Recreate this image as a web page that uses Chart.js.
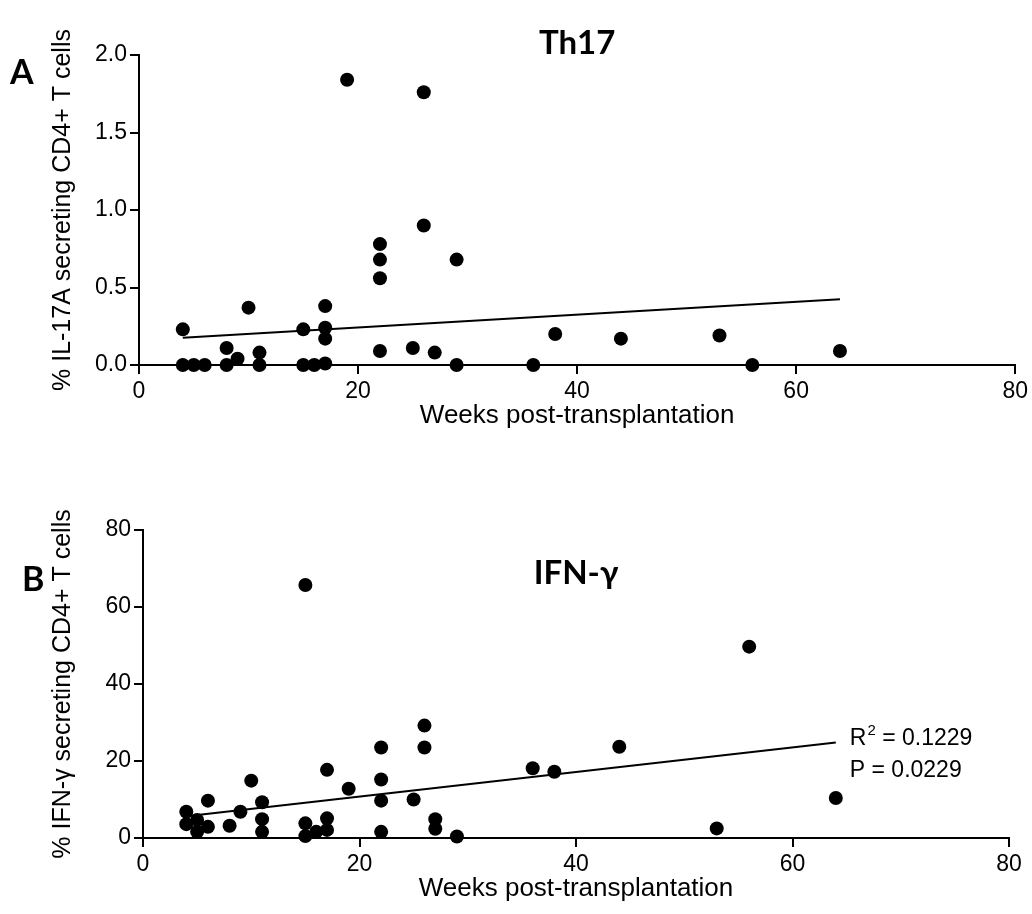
<!DOCTYPE html>
<html>
<head>
<meta charset="utf-8">
<title>Th17 and IFN-γ vs weeks post-transplantation</title>
<script src="https://cdn.jsdelivr.net/npm/chart.js@4.4.1/dist/chart.umd.min.js"></script>
<style>
  html, body { margin: 0; padding: 0; background: #fff; }
  body { width: 1032px; height: 914px; position: relative; overflow: hidden; }
  .panel { position: absolute; left: 0; width: 1032px; height: 457px; }
  #panelA { top: 0; }
  #panelB { top: 457px; }
</style>
</head>
<body>
<div class="panel" id="panelA"><canvas id="chartA"></canvas></div>
<div class="panel" id="panelB"><canvas id="chartB"></canvas></div>
<script>
"use strict";

// Panel A: % IL-17A secreting CD4+ T cells
const weeksA = [4, 4, 5, 6, 8, 8, 9, 10, 11, 11, 15, 15, 16, 17, 17, 17, 17, 19, 22, 22, 22, 22, 25, 26, 26, 27, 29, 29, 36, 38, 44, 53, 56, 64];
const il17a  = [0.23, 0, 0, 0, 0.11, 0, 0.04, 0.37, 0.08, 0, 0.23, 0, 0, 0.38, 0.24, 0.17, 0.01, 1.84, 0.78, 0.68, 0.56, 0.09, 0.11, 1.76, 0.90, 0.08, 0.68, 0, 0, 0.20, 0.17, 0.19, 0, 0.09];
const fitWeeksA = [4, 64];
const fitA      = [0.176, 0.424];
const yTicksA = [0, 0.5, 1.0, 1.5, 2.0];

// Panel B: % IFN-γ secreting CD4+ T cells
const weeksB = [4, 4, 5, 5, 6, 6, 8, 9, 10, 11, 11, 11, 15, 15, 15, 16, 17, 17, 17, 19, 22, 22, 22, 22, 25, 26, 26, 27, 27, 29, 36, 38, 44, 53, 56, 64];
const ifng   = [6.8, 3.6, 4.7, 1.6, 9.7, 2.9, 3.2, 6.8, 14.9, 9.3, 4.9, 1.6, 65.7, 3.8, 0.5, 1.6, 17.7, 5.1, 2.1, 12.8, 23.5, 15.2, 9.7, 1.6, 10.0, 29.2, 23.5, 4.9, 2.4, 0.4, 18.1, 17.2, 23.7, 2.5, 49.7, 10.4];
const fitWeeksB = [4, 64];
const fitB      = [5.65, 24.8];
const yTicksB = [0, 20, 40, 60, 80];
const statsB = ["0.1229", "0.0229"]; // R², P

const xTicks = [0, 20, 40, 60, 80];

Chart.defaults.font.family = "'Liberation Sans', Arial, sans-serif";
Chart.defaults.color = "#000";
Chart.defaults.animation = false;

function toPoints(xs, ys) {
  return xs.map((x, i) => ({ x, y: ys[i] }));
}

// panel letter, bold title and the optional R²/P note next to the fit line
const panelText = {
  id: "panelText",
  afterDraw(chart, args, opts) {
    const { ctx, chartArea, scales } = chart;
    ctx.save();
    ctx.fillStyle = "#000";
    ctx.textBaseline = "middle";

    ctx.font = "bold 33px Lato, sans-serif";
    ctx.textAlign = "center";
    ctx.fillText(opts.title, (chartArea.left + chartArea.right) / 2, chartArea.top + opts.titleDy);

    ctx.font = "bold 34px Lato, sans-serif";
    ctx.textAlign = "left";
    ctx.fillText(opts.letter, opts.letterX, chartArea.top + opts.letterDy);

    if (opts.stats) {
      const fit = chart.data.datasets[1].data;
      const end = fit[fit.length - 1];
      const x0 = scales.x.getPixelForValue(end.x) + 14;
      const y0 = scales.y.getPixelForValue(end.y) - 4;
      ctx.font = "23px 'Liberation Sans', Arial, sans-serif";
      ctx.fillText("R", x0, y0);
      let x = x0 + ctx.measureText("R").width;
      ctx.font = "15px 'Liberation Sans', Arial, sans-serif";
      ctx.fillText("2", x + 1, y0 - 8);
      x += ctx.measureText("2").width + 1;
      ctx.font = "23px 'Liberation Sans', Arial, sans-serif";
      ctx.fillText(" = " + opts.stats[0], x, y0);
      ctx.fillText("P = " + opts.stats[1], x0, y0 + 32);
    }
    ctx.restore();
  },
};

function makePanel(canvasId, cfg) {
  const axisLine = { display: true, color: "#000", width: 2 };
  const tickGrid = { drawOnChartArea: false, drawTicks: true, tickLength: 9, lineWidth: 2, color: "#000" };

  return new Chart(document.getElementById(canvasId), {
    type: "scatter",
    data: {
      datasets: [
        {
          data: toPoints(cfg.xs, cfg.ys),
          backgroundColor: "#000",
          borderWidth: 0,
          pointRadius: 7,
          pointHoverRadius: 7,
          clip: false,
        },
        {
          data: toPoints(cfg.fitX, cfg.fitY),
          showLine: true,
          borderColor: "#000",
          borderWidth: 2,
          pointRadius: 0,
          clip: false,
        },
      ],
    },
    options: {
      responsive: true,
      maintainAspectRatio: false,
      layout: { padding: cfg.padding },
      plugins: {
        legend: { display: false },
        tooltip: { enabled: false },
        panelText: cfg.text,
      },
      scales: {
        x: {
          type: "linear",
          min: 0,
          max: 80,
          afterBuildTicks: (s) => { s.ticks = xTicks.map((v) => ({ value: v })); },
          ticks: { font: { size: 23 }, padding: 4, maxRotation: 0 },
          grid: tickGrid,
          border: axisLine,
          title: {
            display: true,
            text: "Weeks post-transplantation",
            font: { size: 26 },
            padding: { top: 0, bottom: cfg.xTitlePad },
          },
          afterFit: (s) => { s.height = cfg.xHeight; },
        },
        y: {
          type: "linear",
          min: cfg.yTicks[0],
          max: cfg.yTicks[cfg.yTicks.length - 1],
          afterBuildTicks: (s) => { s.ticks = cfg.yTicks.map((v) => ({ value: v })); },
          ticks: { font: { size: 23 }, padding: 3, callback: cfg.yFormat },
          grid: tickGrid,
          border: axisLine,
          title: {
            display: true,
            text: cfg.yTitle,
            font: { size: 25 },
            padding: { top: 48, bottom: 0 },
          },
          afterFit: (s) => { s.width = cfg.yWidth; },
        },
      },
    },
    plugins: [panelText],
  });
}

makePanel("chartA", {
  xs: weeksA, ys: il17a, fitX: fitWeeksA, fitY: fitA,
  yTicks: yTicksA,
  yFormat: (v) => Number(v).toFixed(1),
  yTitle: "% IL-17A secreting CD4+ T cells",
  padding: { top: 55, right: 14, left: 0, bottom: 0 },
  yWidth: 139, xHeight: 92, xTitlePad: 26,
  text: { title: "Th17", titleDy: -12, letter: "A", letterX: 10, letterDy: 18 },
});

makePanel("chartB", {
  xs: weeksB, ys: ifng, fitX: fitWeeksB, fitY: fitB,
  yTicks: yTicksB,
  yFormat: (v) => String(v),
  yTitle: "% IFN-γ secreting CD4+ T cells",
  padding: { top: 73, right: 23, left: 0, bottom: 0 },
  yWidth: 143, xHeight: 76, xTitlePad: 10,
  text: { title: "IFN-γ", titleDy: 43, letter: "B", letterX: 22, letterDy: 50, stats: statsB },
});
</script>
</body>
</html>
